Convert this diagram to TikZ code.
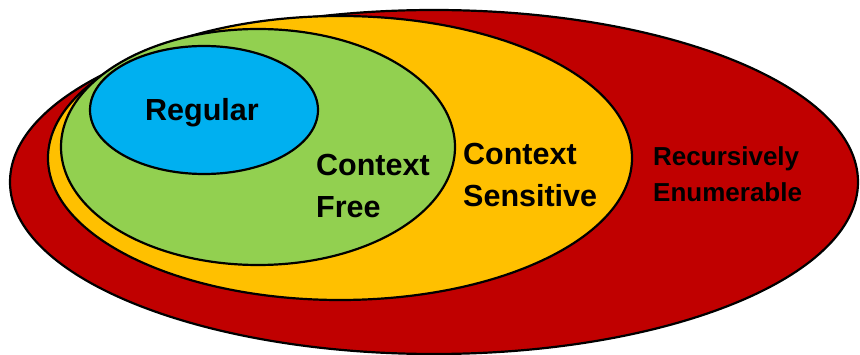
\documentclass[tikz,border=0pt]{standalone}
\usepackage{fontspec}
\setmainfont{Liberation Sans}
\definecolor{reRed}{HTML}{C00000}
\definecolor{csYellow}{HTML}{FFC000}
\definecolor{cfGreen}{HTML}{92D050}
\definecolor{regBlue}{HTML}{00B0F0}
\begin{document}
\begin{tikzpicture}[x=1pt,y=-1pt,
  setshape/.style={draw=black,line width=2.2pt},
  biglabel/.style={font=\bfseries\fontsize{30.5}{42}\selectfont,inner sep=0pt,align=left,anchor=base west},
  smalllabel/.style={font=\bfseries\fontsize{26}{36.5}\selectfont,inner sep=0pt,align=left,anchor=base west}]
\useasboundingbox (0,0) rectangle (860,355);
% nested language classes, outermost first
\fill[reRed,setshape] (434,182) ellipse [x radius=424,y radius=172];
\fill[csYellow,setshape] (340,158) ellipse [x radius=292,y radius=142];
\fill[cfGreen,setshape] (258,147) ellipse [x radius=197,y radius=118];
\fill[regBlue,setshape] (204,110) ellipse [x radius=114,y radius=64];
% labels (base anchor sits on the last line)
\node[biglabel,anchor=base] (reg) at (202,121) {Regular};
\node[biglabel] (cf) at (316,218) {Context\\Free};
\node[biglabel] (cs) at (463,207) {Context\\Sensitive};
\node[smalllabel] (re) at (653,202) {Recursively\\Enumerable};
\end{tikzpicture}
\end{document}
